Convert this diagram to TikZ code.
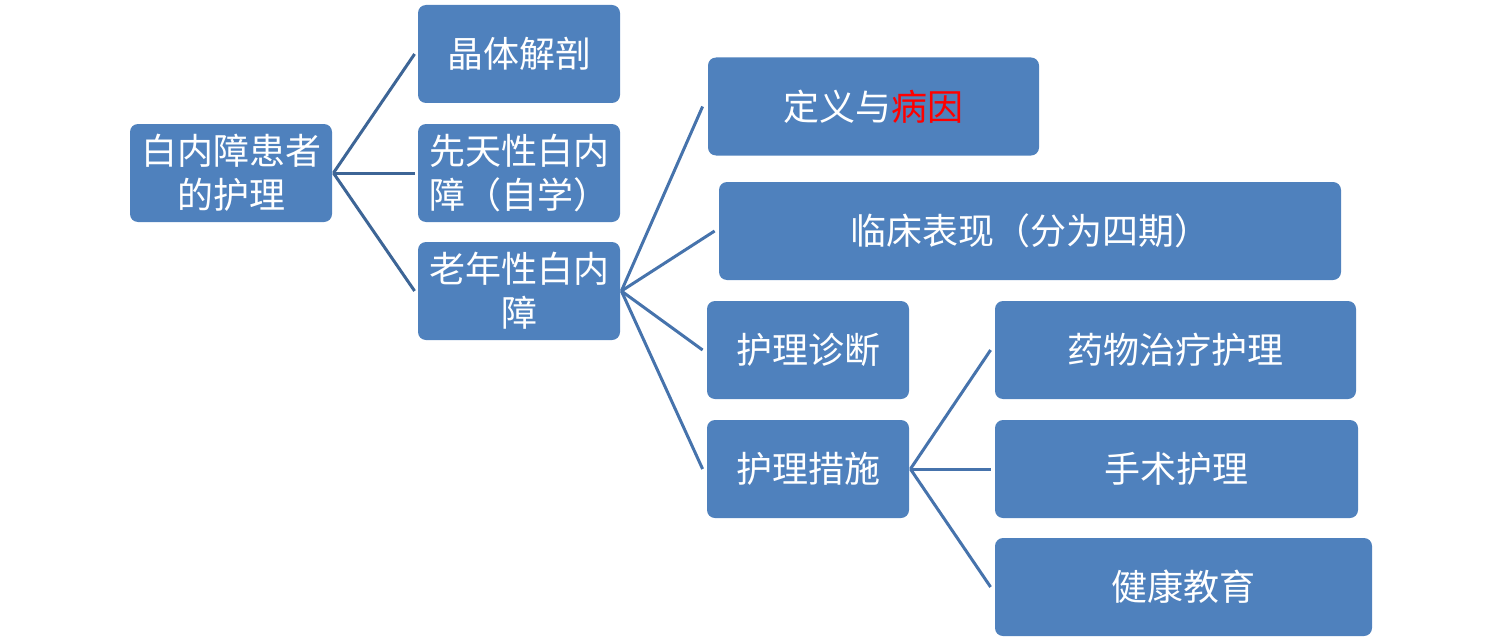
\documentclass[tikz,border=0pt]{standalone}
\usepackage{fontspec}
\newfontfamily\cjk{Noto Sans CJK SC}
\definecolor{boxblue}{HTML}{4F81BD}
\definecolor{linkblue}{HTML}{4673AC}
\definecolor{rootlink}{HTML}{3D6596}
\tikzset{
  box/.style={draw=none, fill=boxblue, rounded corners=4pt, text=white,
    font=\cjk\fontsize{18}{22}\selectfont, align=center, inner sep=0pt,
    minimum height=49pt},
  link/.style={draw=linkblue, line width=1.5pt},
  rlink/.style={draw=rootlink, line width=1.5pt}
}
\begin{document}
\begin{tikzpicture}[x=0.5pt,y=-0.5pt]
\useasboundingbox (0,0) rectangle (1502,642);
\node[box, minimum width=101pt] (root) at (231,173) {白内障患者\\的护理};
\node[box, minimum width=101pt] (a1) at (519,54) {晶体解剖};
\node[box, minimum width=101pt] (a2) at (519,173) {先天性白内\\障（自学）};
\node[box, minimum width=101pt] (a3) at (519,291) {老年性白内\\障};
\node[box, minimum width=165.5pt] (b1) at (873.5,106.5) {定义与\textcolor{red}{病因}};
\node[box, minimum width=311pt] (b2) at (1030,231) {临床表现（分为四期）};
\node[box, minimum width=101pt] (b3) at (808,350) {护理诊断};
\node[box, minimum width=101pt] (b4) at (808,469) {护理措施};
\node[box, minimum width=180.5pt] (c1) at (1175.5,350) {药物治疗护理};
\node[box, minimum width=181.5pt] (c2) at (1176.5,469) {手术护理};
\node[box, minimum width=188.5pt] (c3) at (1183.5,587) {健康教育};
\draw[rlink] ([xshift=0.5pt]root.east) -- ([xshift=-1.5pt]a1.west);
\draw[rlink] ([xshift=0.5pt]root.east) -- ([xshift=-1.5pt]a2.west);
\draw[rlink] ([xshift=0.5pt]root.east) -- ([xshift=-1.5pt]a3.west);
\draw[link] ([xshift=0.5pt]a3.east) -- ([xshift=-2.5pt]b1.west);
\draw[link] ([xshift=0.5pt]a3.east) -- ([xshift=-2pt]b2.west);
\draw[link] ([xshift=0.5pt]a3.east) -- ([xshift=-2pt]b3.west);
\draw[link] ([xshift=0.5pt]a3.east) -- ([xshift=-2pt]b4.west);
\draw[link] ([xshift=0.5pt]b4.east) -- ([xshift=-2pt]c1.west);
\draw[link] ([xshift=0.5pt]b4.east) -- ([xshift=-2pt]c2.west);
\draw[link] ([xshift=0.5pt]b4.east) -- ([xshift=-2pt]c3.west);
\end{tikzpicture}
\end{document}
